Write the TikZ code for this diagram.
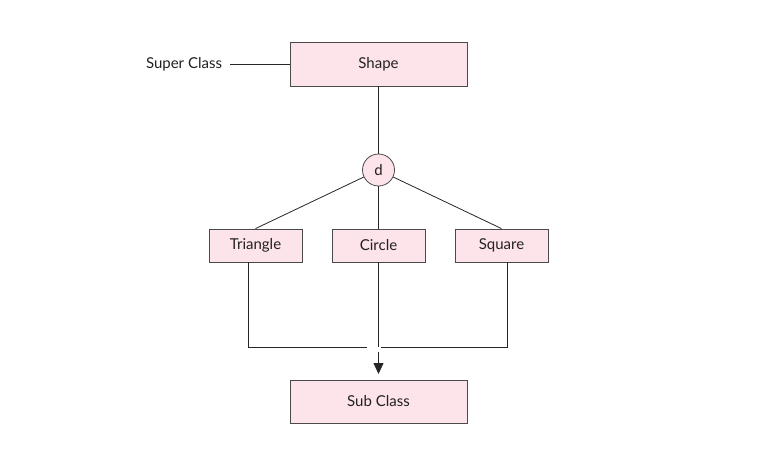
\documentclass[tikz,border=0pt]{standalone}
\usepackage{fontspec}
\setmainfont{Lato}
\usetikzlibrary{arrows.meta}
\definecolor{boxfill}{HTML}{FDE3EA}
\definecolor{boxline}{HTML}{4A4A4A}
\definecolor{txt}{HTML}{222222}
\begin{document}
\begin{tikzpicture}[x=1pt,y=-1pt,
  cls/.style={draw=boxline,fill=boxfill,line width=0.8pt,minimum width=#1,inner sep=0pt,text=txt,font=\fontsize{15}{17}\selectfont},
  conn/.style={draw=black!85,line width=0.8pt},
  lbl/.style={text=txt,font=\fontsize{15}{17}\selectfont}]
\useasboundingbox (0,0) rectangle (769,458);
\node[cls=177pt,minimum height=44pt] (shape) at (378.5,64) {Shape};
\node[lbl] (super) at (184,64) {Super Class};
\node[circle,draw=boxline,fill=boxfill,line width=0.8pt,minimum size=32pt,inner sep=0pt,text=txt,font=\fontsize{15}{17}\selectfont] (d) at (378.5,170) {d};
\node[cls=93pt,minimum height=33pt] (tri) at (255.5,245.5) {Triangle};
\node[cls=93pt,minimum height=33pt] (cir) at (378.5,245.5) {Circle};
\node[cls=93pt,minimum height=33pt] (sq) at (501.5,245.5) {Square};
\node[cls=177pt,minimum height=43pt] (sub) at (378.5,401.5) {Sub Class};
\coordinate (tl) at (248.5,262);
\coordinate (tr) at (507.5,262);
\coordinate (jl) at (367,347.5);
\coordinate (jr) at (381,347.5);
\coordinate (jt) at (378.5,347);
\coordinate (ab) at (378.5,352);
\coordinate (at) at (378.5,374);
\draw[conn] (230,64) -- (shape.west);
\draw[conn] (shape.south) -- (d.north);
\draw[conn] (d) -- (tri.north);
\draw[conn] (d) -- (cir.north);
\draw[conn] (d) -- (sq.north);
\draw[conn] (tl) |- (jl);
\draw[conn] (tr) |- (jr);
\draw[conn] (cir.south) -- (jt);
\draw[conn,-{Triangle[length=11pt,width=10pt]}] (ab) -- (at);
\end{tikzpicture}
\end{document}
